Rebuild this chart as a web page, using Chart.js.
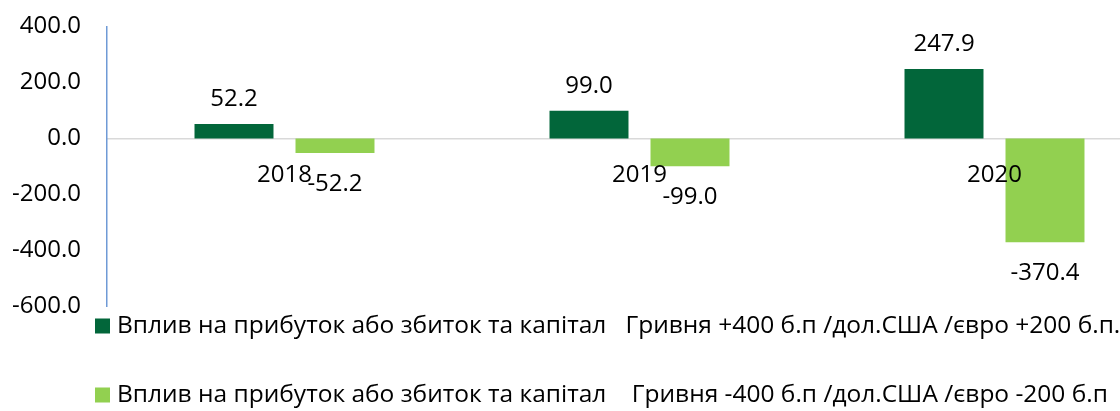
<!DOCTYPE html>
<html>
<head>
<meta charset="utf-8">
<script src="https://cdn.jsdelivr.net/npm/chart.js@4.4.1/dist/chart.umd.min.js"></script>
<style>
  html, body { margin: 0; padding: 0; background: #ffffff; overflow: hidden; width: 1120px; height: 411px; }
  #wrap { position: absolute; left: 0; top: 0; width: 1175px; height: 411px; }
</style>
</head>
<body>
<div id="wrap"><canvas id="c" width="1175" height="411"></canvas></div>
<script>
const categories = ['2018', '2019', '2020'];
const seriesUpLabel = 'Вплив на прибуток або збиток та капітал   Гривня +400 б.п /дол.США /євро +200 б.п.';
const seriesDownLabel = 'Вплив на прибуток або збиток та капітал    Гривня -400 б.п /дол.США /євро -200 б.п';
const seriesUp = [52.2, 99.0, 247.9];
const seriesDown = [-52.2, -99.0, -370.4];
const yTicks = [-600, -400, -200, 0, 200, 400];

const FONT = "'Open Sans', 'Liberation Sans', sans-serif";
const DARK = '#02663A';
const LIGHT = '#92D050';

const valueLabels = {
  id: 'valueLabels',
  afterDatasetsDraw(chart) {
    const ctx = chart.ctx;
    ctx.save();
    ctx.font = '24px ' + FONT;
    ctx.fillStyle = '#000000';
    ctx.textAlign = 'center';
    ctx.textBaseline = 'middle';
    chart.data.datasets.forEach((ds, di) => {
      const meta = chart.getDatasetMeta(di);
      meta.data.forEach((el, i) => {
        const v = ds.data[i];
        const y = v >= 0 ? el.y - 25 : el.y + 31;
        ctx.fillText(v.toFixed(1), el.x, y);
      });
    });
    ctx.restore();
  }
};

const bottomLegend = {
  id: 'bottomLegend',
  afterDraw(chart) {
    const ctx = chart.ctx;
    const rows = [326, 395];
    ctx.save();
    ctx.font = '24.5px ' + FONT;
    ctx.textAlign = 'left';
    ctx.textBaseline = 'middle';
    chart.data.datasets.forEach((ds, i) => {
      const cy = rows[i];
      ctx.fillStyle = ds.backgroundColor;
      ctx.fillRect(95, cy - 7.5, 15, 15);
      ctx.fillStyle = '#000000';
      ctx.fillText(ds.label, 117, cy);
    });
    ctx.restore();
  }
};

new Chart(document.getElementById('c'), {
  type: 'bar',
  data: {
    labels: categories,
    datasets: [
      { label: seriesUpLabel, data: seriesUp, backgroundColor: DARK, borderWidth: 0 },
      { label: seriesDownLabel, data: seriesDown, backgroundColor: LIGHT, borderWidth: 0 }
    ]
  },
  options: {
    responsive: false,
    animation: false,
    devicePixelRatio: 1,
    layout: { padding: { top: 26.5, right: 3, bottom: 104.5, left: 0 } },
    datasets: { bar: { categoryPercentage: 0.569, barPercentage: 0.782 } },
    plugins: { legend: { display: false }, tooltip: { enabled: false } },
    scales: {
      x: {
        type: 'category',
        position: { y: 0 },
        offset: true,
        grid: { display: false, drawTicks: false },
        border: { display: true, color: '#D9D9D9', width: 1.5 },
        ticks: { font: { family: FONT, size: 24 }, color: '#000000', padding: 22, z: 1, maxRotation: 0, autoSkip: false }
      },
      y: {
        min: -600,
        max: 400,
        afterBuildTicks(scale) { scale.ticks = yTicks.map(v => ({ value: v })); },
        afterFit(scale) { scale.width = 107; scale.paddingTop = 0; scale.paddingBottom = 0; },
        grid: { display: false, drawTicks: false },
        border: { display: true, color: '#6F9AD6', width: 1.5 },
        ticks: {
          font: { family: FONT, size: 24 },
          color: '#000000',
          padding: 26,
          callback: (v) => Number(v).toFixed(1)
        }
      }
    }
  },
  plugins: [valueLabels, bottomLegend]
});
</script>
</body>
</html>
